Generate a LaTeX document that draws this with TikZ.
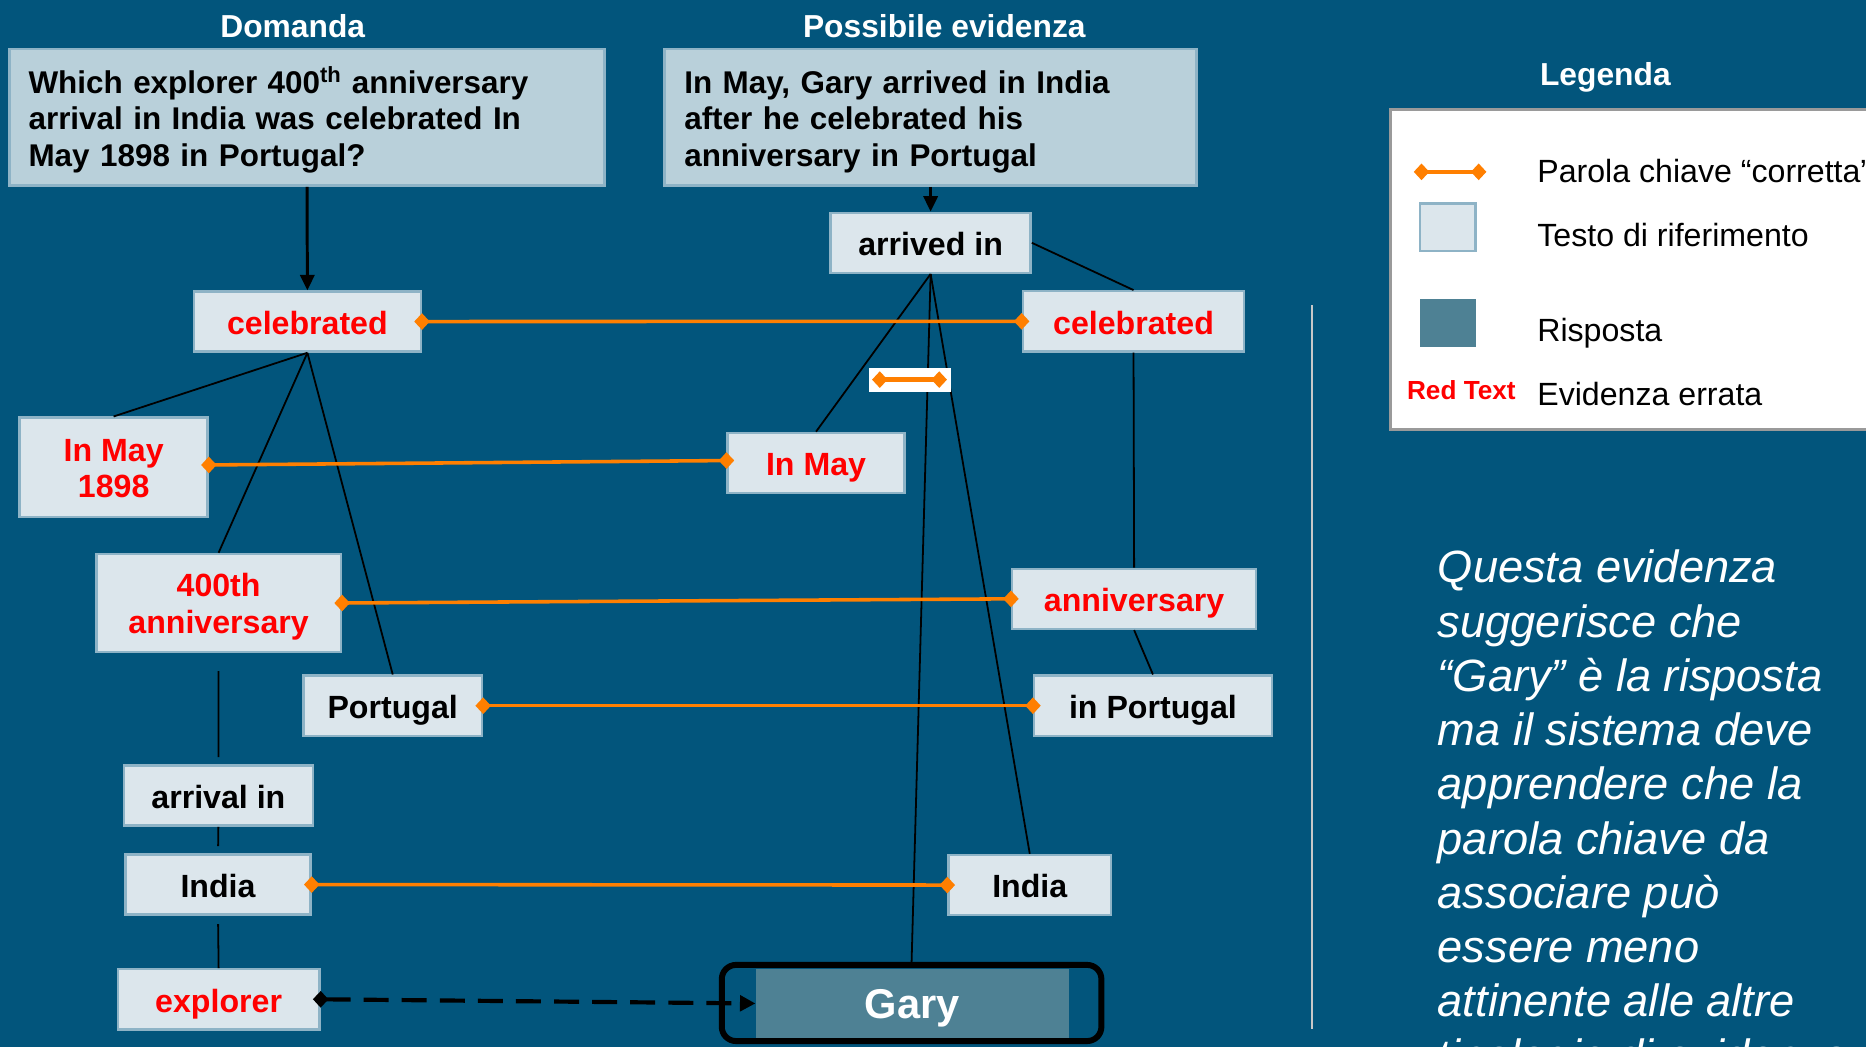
\documentclass[tikz,border=0pt]{standalone}
\usepackage{fontspec}
\setmainfont{Liberation Sans}
\usetikzlibrary{arrows.meta,positioning}
\definecolor{slidebg}{HTML}{02557C}
\definecolor{boxfill}{HTML}{DCE6EC}
\definecolor{boxedge}{HTML}{8EB3C6}
\definecolor{quotefill}{HTML}{B9D0DA}
\definecolor{answerfill}{HTML}{4E8194}
\definecolor{keyorange}{HTML}{FF7F00}
\definecolor{wrongred}{HTML}{FF0000}
\definecolor{rulegray}{HTML}{C8C8C8}
\definecolor{legendedge}{HTML}{9A9A9A}
\tikzset{
title/.style={
    text=white,
    inner sep=0pt,
    text height=24pt,
    text depth=5.6pt,
    font=\bfseries\fontsize{26.7}{30}\selectfont
},
sentence/.style={
    rectangle,
    draw=boxedge,
    fill=quotefill,
    line width=2pt,
    minimum height=115pt,
    inner xsep=16pt,
    text height=27pt,
    align=left,
    font=\bfseries\fontsize{26.4}{31}\selectfont
},
wordbox/.style={
    rectangle,
    draw=boxedge,
    fill=boxfill,
    line width=2pt,
    inner sep=0pt,
    minimum height=50.5pt,
    text height=27.3pt,
    text depth=5.7pt,
    font=\bfseries\fontsize{27}{31}\selectfont
},
wordpair/.style={
    wordbox,
    text height=57.2pt,
    text depth=5.7pt,
    align=center,
    minimum height=83pt
},
wrongtext/.style={
    text=wrongred
},
answerframe/.style={
    rectangle,
    rounded corners=12pt,
    draw=black,
    line width=5pt,
    minimum width=319pt,
    minimum height=64pt
},
answer/.style={
    rectangle,
    fill=answerfill,
    text=white,
    inner sep=0pt,
    minimum width=263pt,
    minimum height=57.5pt,
    text height=33pt,
    text depth=7.4pt,
    font=\bfseries\fontsize{35}{40}\selectfont
},
legendtext/.style={
    anchor=west,
    inner sep=0pt,
    text height=24.4pt,
    text depth=5.7pt,
    font=\fontsize{27}{31}\selectfont
},
parsearrow/.style={
    black,line width=2.5pt,-{Triangle[length=13pt,width=12pt]}
},
treeline/.style={
    black,line width=1.5pt
},
keylink/.style={
    keyorange,line width=3pt,
    {Diamond[length=13pt,width=14pt]}-{Diamond[length=13pt,width=14pt]},
    shorten <=-6.5pt,shorten >=-6.5pt
},
guesslink/.style={
    black,line width=3.5pt,dash pattern=on 21pt off 11pt,
    {Diamond[length=13pt,width=14pt]}-{Triangle[length=13pt,width=13pt]},
    shorten <=-6.5pt
},
}

\begin{document}
\begin{tikzpicture}[x=1pt,y=-1pt]
\useasboundingbox (0,0) rectangle (1568,880);
\clip (0,0) rectangle (1568,880);
\fill[slidebg] (0,0) rectangle (1568,880);
%
\node[title] (qtitle) at (246,22.7) {Domanda};
\node[title] (etitle) at (793.5,22.7) {Possibile evidenza};
\node[sentence,text width=468pt] (question) at (258,98.5) {Which explorer 400\textsuperscript{th} anniversary\\arrival in India was celebrated In\\May 1898 in Portugal?};
\node[sentence,text width=414pt,inner xsep=16.5pt] (evidence) at (782,98.5) {In May, Gary arrived in India\\after he celebrated his\\anniversary in Portugal};
%
\node[wordbox,wrongtext,minimum width=190.6pt] (celebQ) at (258.3,270.2) {celebrated};
\node[wordpair,wrongtext,minimum width=158pt,minimum height=83.5pt] (maythQ) at (95.5,392.7) {In May\\1898};
\node[wordpair,wrongtext,minimum width=205.5pt,minimum height=82.5pt] (annivQ) at (183.7,506.7) {400th\\anniversary};
\node[wordbox,minimum width=150pt] (portQ) at (330,593) {Portugal};
\node[wordbox,minimum width=159pt] (arrivalQ) at (183.5,668.5) {arrival in};
\node[wordbox,minimum width=155.5pt] (indiaQ) at (183.2,743.3) {India};
\node[wordbox,wrongtext,minimum width=169.5pt] (explQ) at (183.7,839.7) {explorer};
%
\node[wordbox,minimum width=168pt] (arrivedE) at (782,204) {arrived in};
\node[wordbox,wrongtext,minimum width=186pt] (celebE) at (952.5,270) {celebrated};
\node[wordbox,wrongtext,minimum width=148.5pt] (mayE) at (685.7,389) {In May};
\node[wordbox,wrongtext,minimum width=205pt] (annivE) at (953,503.2) {anniversary};
\node[wordbox,minimum width=199.6pt] (portE) at (968.8,593) {in Portugal};
\node[wordbox,minimum width=136.6pt] (indiaE) at (865.3,743.7) {India};
%
\node[answerframe] (garyframe) at (766,842.8) {};
\node[answer] (gary) at (766.5,843.2) {Gary};
%
\draw[parsearrow] (question.south) -- (celebQ.north);
\draw[parsearrow] (evidence.south) -- (arrivedE.north);
\draw[treeline] (celebQ.south) -- (maythQ.north);
\draw[treeline] (celebQ.south) -- (annivQ.north);
\draw[treeline] (celebQ.south) -- (portQ.north);
\draw[treeline,shorten <=15pt,shorten >=6pt] (annivQ.south) -- (arrivalQ.north);
\draw[treeline,shorten >=6pt] (arrivalQ.south) -- (indiaQ.north);
\draw[treeline,shorten <=7pt] (indiaQ.south) -- (explQ.north);
\draw[treeline] (arrivedE.east) -- (celebE.north);
\draw[treeline] (arrivedE.south) -- (mayE.north);
\draw[treeline] (arrivedE.south) -- (garyframe.north);
\draw[treeline] (arrivedE.south) -- (indiaE.north);
\draw[treeline] (celebE.south) -- (annivE.north);
\draw[treeline] (annivE.south) -- (portE.north);
%
\draw[keylink] (celebQ.east) -- (celebE.west);
\draw[keylink] ([yshift=2pt]maythQ.east) -- ([yshift=2pt]mayE.west);
\draw[keylink] (annivQ.east) -- (annivE.west);
\draw[keylink] (portQ.east) -- (portE.west);
\draw[keylink] (indiaQ.east) -- (indiaE.west);
\draw[guesslink] (explQ.east) -- (gary.west);
%
\node[fill=white,inner sep=0pt,minimum width=69pt,minimum height=20pt] (pairmark) at (764.5,319) {};
\draw[keylink,line width=4pt] ([xshift=9.5pt]pairmark.west) -- ([xshift=-10pt]pairmark.east);
%
\draw[rulegray,line width=2pt] (1102.5,256.5) -- (1102.5,865);
%
\node[title] (legtitle) at (1349,62.8) {Legenda};
\node[draw=legendedge,fill=white,line width=2.5pt,inner sep=0pt,minimum width=460pt,minimum height=269pt,anchor=north west] (legend) at (1167,90.6) {};
\coordinate (keyA) at (1194.5,144.4);
\coordinate (keyB) at (1242.5,144.4);
\draw[keylink] (keyA) -- (keyB);
\node[draw=boxedge,fill=boxfill,line width=2pt,inner sep=0pt,minimum width=46.5pt,minimum height=40pt] (refsample) at (1216.7,191) {};
\node[fill=answerfill,inner sep=0pt,minimum width=47pt,minimum height=41pt] (answersample) at (1216.5,271.5) {};
\node[text=wrongred,inner sep=0pt,font=\bfseries\fontsize{22}{26}\selectfont] (redsample) at (1228,328) {Red Text};
\node[legendtext] (keylabel) at (1291.6,143.6) {Parola chiave “corretta”};
\node[legendtext] (reflabel) at (1291.6,197.6) {Testo di riferimento};
\node[legendtext] (answerlabel) at (1291.6,277.5) {Risposta};
\node[legendtext] (redlabel) at (1291.6,331.5) {Evidenza errata};
%
\node[anchor=north west,inner sep=0pt,align=left,text=white,font=\itshape\fontsize{38}{45.6}\selectfont] (remark) at (1208,462) {Questa evidenza\\suggerisce che\\“Gary” è la risposta\\ma il sistema deve\\apprendere che la\\parola chiave da\\associare può\\essere meno\\attinente alle altre\\tipologie di evidenza};
%
\end{tikzpicture}
\end{document}
